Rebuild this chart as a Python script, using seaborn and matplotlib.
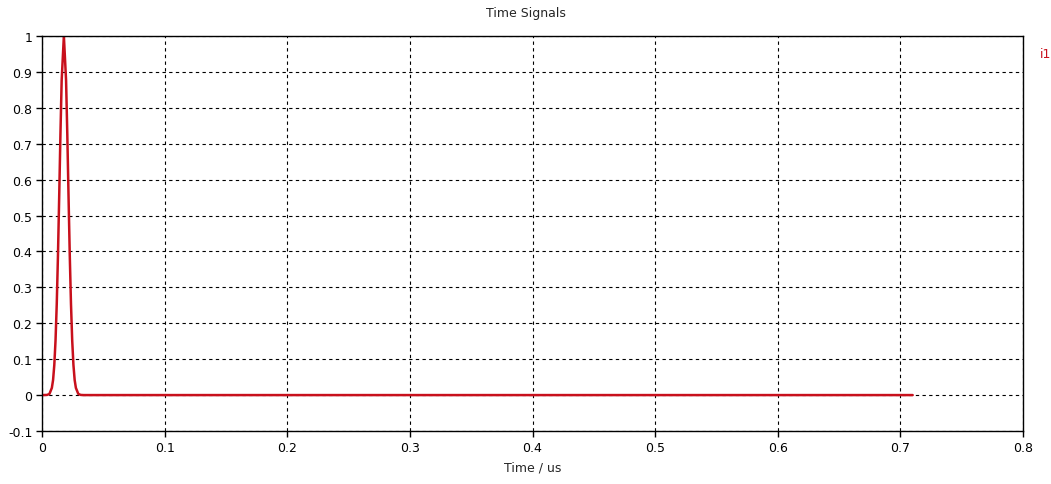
import matplotlib
matplotlib.use("Agg")
import matplotlib.pyplot as plt
import seaborn as sns
from matplotlib.ticker import FuncFormatter

# Data (time in us, signal i1)
time_us = [0.0, 0.004, 0.006, 0.008, 0.009, 0.010, 0.011, 0.012, 0.013, 0.014, 0.015,
           0.016, 0.0178, 0.0196, 0.0206, 0.0216, 0.0226, 0.0236, 0.0246, 0.0256,
           0.0266, 0.0276, 0.0296, 0.0316, 0.034, 0.1, 0.3, 0.5, 0.71]
i1 = [0.0, 0.0004, 0.003, 0.020, 0.042, 0.084, 0.152, 0.254, 0.391, 0.555, 0.726,
      0.876, 1.0, 0.876, 0.726, 0.555, 0.391, 0.254, 0.152, 0.084,
      0.042, 0.020, 0.003, 0.0004, 0.0, 0.0, 0.0, 0.0, 0.0]
x_ticks = [0, 0.1, 0.2, 0.3, 0.4, 0.5, 0.6, 0.7, 0.8]
y_ticks = [-0.1, 0, 0.1, 0.2, 0.3, 0.4, 0.5, 0.6, 0.7, 0.8, 0.9, 1]
series_name = "i1"

sns.set_style("white")
plt.rcParams['font.family'] = ['DejaVu Sans']

fig = plt.figure(figsize=(10.51, 4.85), dpi=100)
ax = fig.add_axes([0.040, 0.1093, 0.9334, 0.8144])

line_color = "#c8101c"
sns.lineplot(x=time_us, y=i1, ax=ax, color=line_color, linewidth=1.8, label=series_name)

ax.set_xlim(0, 0.8)
ax.set_ylim(-0.1, 1)
ax.set_xticks(x_ticks)
ax.set_yticks(y_ticks)
fmt = FuncFormatter(lambda v, p: f"{v:g}" if abs(v) > 1e-9 else "0")
ax.xaxis.set_major_formatter(fmt)
ax.yaxis.set_major_formatter(fmt)

ax.grid(True, color="black", linestyle=(0, (3, 3)), linewidth=0.8)
for s in ax.spines.values():
    s.set_color("black")
    s.set_linewidth(1.0)
ax.tick_params(axis="both", direction="out", length=4, width=1, color="black",
               labelsize=9, labelcolor="black", pad=3,
               bottom=True, left=True)

ax.set_xlabel("Time / us", fontsize=9, labelpad=5)
ax.set_ylabel("")
fig.suptitle("Time Signals", fontsize=9, y=0.985)

leg = ax.legend(loc="upper left", bbox_to_anchor=(1.012, 0.985), frameon=False,
                handlelength=0, handletextpad=0, fontsize=9, borderaxespad=0)
for h in leg.legend_handles:
    h.set_visible(False)
for t in leg.get_texts():
    t.set_color(line_color)

fig.savefig("out.png", dpi=100, facecolor="white")
